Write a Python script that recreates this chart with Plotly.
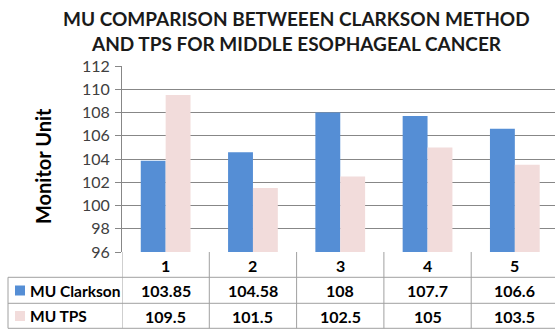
import plotly.graph_objects as go

categories = ["1", "2", "3", "4", "5"]
series_names = ["MU Clarkson", "MU TPS"]
mu_clarkson = [103.85, 104.58, 108, 107.7, 106.6]
mu_tps = [109.5, 101.5, 102.5, 105, 103.5]
y_ticks = [96, 98, 100, 102, 104, 106, 108, 110, 112]
title_lines = ["MU COMPARISON BETWEEEN CLARKSON METHOD", "AND TPS FOR MIDDLE ESOPHAGEAL CANCER"]
y_title = "Monitor Unit"

colors = ["#558ED5", "#F2DCDB"]
FONT = "Lato"
W, H = 555, 331
ML, MR, MT, MB = 122, 0, 66, 79
plot_h = H - MT - MB
plot_w = W - ML - MR
Y0 = y_ticks[0]

def py(ypx):
    return (H - MB - ypx) / plot_h

def px(xpx):
    return (xpx - ML) / plot_w

xs = list(range(len(categories)))
fig = go.Figure()
for name, vals, c in zip(series_names, [mu_clarkson, mu_tps], colors):
    fig.add_trace(go.Bar(x=xs, y=[v - Y0 for v in vals], base=Y0, name=name,
                         marker=dict(color=c, line=dict(width=0)), showlegend=False,
                         hoverinfo="skip"))

grid_c = "#878787"
line_c = "#A0A0A0"
fig.update_layout(
    width=W, height=H, margin=dict(l=ML, r=MR, t=MT, b=MB),
    paper_bgcolor="white", plot_bgcolor="white",
    barmode="group", bargap=0.43, bargroupgap=0,
    showlegend=False,
    xaxis=dict(range=[-0.5, 4.46], showticklabels=False, showgrid=False, zeroline=False,
               showline=False, fixedrange=True),
    yaxis=dict(range=[96, 112], tickvals=y_ticks, ticktext=[str(t) for t in y_ticks],
               showgrid=True, gridcolor=grid_c, gridwidth=1, zeroline=False,
               showline=True, linecolor=grid_c, linewidth=1,
               ticks="outside", ticklen=6, tickcolor=grid_c, fixedrange=True,
               tickfont=dict(family=FONT, size=16, color="#404040"), ticklabelstandoff=2),
)

ann = []
for i, t in enumerate(title_lines):
    ann.append(dict(text=f"<b>{t}</b>", xref="paper", yref="paper", x=px(296), y=py(18 + 25 * i),
                    showarrow=False, xanchor="center", yanchor="middle",
                    font=dict(family=FONT, size=19, color="#1a1a1a")))
ann.append(dict(text=f"<b>{y_title}</b>", xref="paper", yref="paper", x=px(43), y=py(166),
                textangle=-90, showarrow=False, xanchor="center", yanchor="middle",
                font=dict(family=FONT, size=20, color="#000000")))

row_y = [265, 290.5, 316]
for i, c in enumerate(categories):
    ann.append(dict(text=f"<b>{c}</b>", xref="x", yref="paper", x=i, y=py(row_y[0]),
                    xanchor="center", yanchor="middle",
                    showarrow=False, font=dict(family=FONT, size=16, color="#000")))
for r, (name, vals) in enumerate(zip(series_names, [mu_clarkson, mu_tps])):
    ann.append(dict(text=f"<b>{name}</b>", xref="paper", yref="paper", x=px(28), y=py(row_y[r + 1]),
                    xanchor="left", yanchor="middle",
                    showarrow=False, font=dict(family=FONT, size=15.5, color="#000")))
    for i, v in enumerate(vals):
        ann.append(dict(text=f"<b>{v:g}</b>", xref="x", yref="paper", x=i, y=py(row_y[r + 1]),
                        xanchor="center", yanchor="middle",
                        showarrow=False, font=dict(family=FONT, size=16, color="#000")))

shapes = []
for r, c in enumerate(colors):
    yc = row_y[r + 1]
    shapes.append(dict(type="rect", xref="paper", yref="paper", x0=px(15), x1=px(25),
                       y0=py(yc - 5), y1=py(yc + 5), fillcolor=c, line=dict(width=0)))
for yl in [277.3, 303.3, 328.3]:
    shapes.append(dict(type="line", xref="paper", yref="paper", x0=px(8), x1=1, y0=py(yl), y1=py(yl),
                       line=dict(color=line_c, width=1)))
for k in range(len(categories)):
    shapes.append(dict(type="line", xref="x", yref="paper", x0=k - 0.5, x1=k - 0.5, y0=0, y1=py(328.3),
                       line=dict(color=line_c, width=1)))
shapes.append(dict(type="line", xref="paper", yref="paper", x0=px(8), x1=px(8), y0=py(277.3), y1=py(328.3),
                   line=dict(color=line_c, width=1)))

fig.update_layout(annotations=ann, shapes=shapes)
fig.write_html("out.html", config={"displayModeBar": False},
               post_script="document.body.style.margin='0';document.body.style.overflow='hidden';")
